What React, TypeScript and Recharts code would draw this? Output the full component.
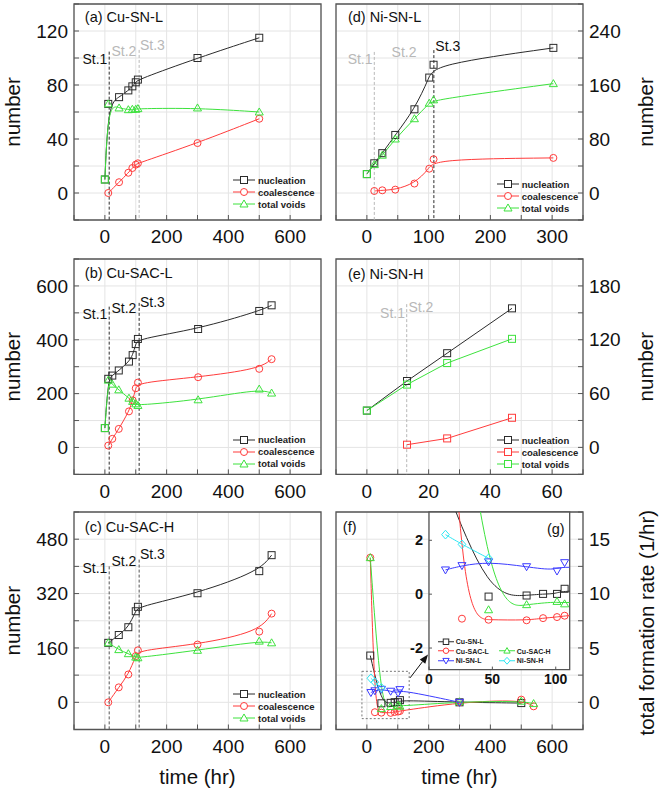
import React from 'react';
import {
  LineChart,
  Line,
  XAxis,
  YAxis,
  CartesianGrid,
  ReferenceLine,
  ReferenceArea,
  ReferenceDot,
  Legend,
} from 'recharts';

const FONT = 'Arial, "Liberation Sans", Helvetica, sans-serif';

const BLACK = '#2b2b2b';
const RED = '#ff3b3b';
const GREEN = '#3de23d';
const BLUE = '#3b3bff';
const CYAN = '#2ee6f2';
const ST_GREY = '#b8b8b8';
const FRAME = '#555555';
const GRID = '#e4e4e4';

// ---- (a) Cu-SN-L ----
const cuSnLTime = [0, 11, 46, 76, 89, 100, 107, 300, 500];
const cuSnLNucleation = [10, 66, 71, 76, 79, 82, 84, 100, 115];
const cuSnLCoalescence = [null, 0, 8, 15, 18.5, 21, 22, 37, 55];
const cuSnLVoids = [10, 66, 63, 61.7, 62, 62, 62.5, 63, 60];

// ---- (b) Cu-SAC-L ----
const cuSacLTime = [0, 11, 24, 45, 78, 90, 100, 107, 302, 500, 540];
const cuSacLNucleation = [72, 255, 267, 286, 319, 343, 384, 403, 440, 507, 528];
const cuSacLCoalescence = [null, 7, 32, 69, 134, 175, 220, 241, 261, 292, 328];
const cuSacLVoids = [72, 250, 235, 214, 183, 171, 162, 156, 177, 217, 202];

// ---- (c) Cu-SAC-H ----
const cuSacHTime = [11, 45, 76, 100, 107, 300, 500, 540];
const cuSacHNucleation = [175, 198, 221, 268, 281, 321, 386, 433];
const cuSacHCoalescence = [0, 44, 82, 136, 153, 170, 208, 261];
const cuSacHVoids = [175, 155, 143, 133, 131, 153, 180, 175];

// ---- (d) Ni-SN-L ----
const niSnLTime = [0, 12, 25, 46, 77, 101, 108, 302];
const niSnLNucleation = [28, 44, 59, 86, 124, 171, 190, 215];
const niSnLCoalescence = [null, 3, 4, 5, 14, 36, 50, 52];
const niSnLVoids = [28, 42, 56, 80, 110, 133, 138, 162];

// ---- (e) Ni-SN-H ----
const niSnHTime = [0, 13, 26, 47];
const niSnHNucleation = [41, 74, 105, 155];
const niSnHCoalescence = [null, 3, 10, 33];
const niSnHVoids = [41, 70, 94, 121];

// ---- (f)/(g) total formation rate ----
const rateTimeCuSnL = [11, 47, 77, 90, 101, 107, 300, 500];
const rateCuSnL = [4.3, -0.09, -0.05, 0.01, 0.01, 0.2, 0, -0.07];
const rateTimeCuSacL = [11, 26, 47, 77, 90, 101, 107, 300, 500, 540];
const rateCuSacL = [13.3, -0.91, -0.95, -0.97, -0.89, -0.85, -0.8, 0, 0.25, -0.37];
const rateTimeCuSacH = [11, 47, 77, 101, 107, 300, 500, 540];
const rateCuSacH = [13.3, -0.58, -0.39, -0.27, -0.36, 0.05, 0.1, -0.12];
const rateTimeNiSnL = [13, 26, 47, 77, 101, 107, 300];
const rateNiSnL = [0.9, 1.06, 1.2, 1.02, 0.86, 1.17, 0];
const rateTimeNiSnH = [13, 26, 47];
const rateNiSnH = [2.21, 1.85, 1.33];

// ---- ticks ----
const hrTicks = [-100, 0, 100, 200, 300, 400, 500, 600, 700];
const hrLabels = [0, 200, 400, 600];
const niLTicks = [-50, 0, 50, 100, 150, 200, 250, 300, 350];
const niLLabels = [0, 100, 200, 300];
const niHTicks = [-10, 0, 10, 20, 30, 40, 50, 60, 70];
const niHLabels = [0, 20, 40, 60];
const aTicks = [-20, 0, 20, 40, 60, 80, 100, 120, 140];
const aLabels = [0, 40, 80, 120];
const bTicks = [-100, 0, 100, 200, 300, 400, 500, 600, 700];
const bLabels = [0, 200, 400, 600];
const cTicks = [-80, 0, 80, 160, 240, 320, 400, 480, 560];
const cLabels = [0, 160, 320, 480];
const dTicks = [-40, 0, 40, 80, 120, 160, 200, 240, 280];
const dLabels = [0, 80, 160, 240];
const eTicks = [-30, 0, 30, 60, 90, 120, 150, 180, 210];
const eLabels = [0, 60, 120, 180];
const fTicks = [-2.5, 0, 2.5, 5, 7.5, 10, 12.5, 15, 17.5];
const fLabels = [0, 5, 10, 15];
const gXTicks = [0, 50, 100];
const gYTicks = [-2, 0, 2];

type Pt = { t: number; v: number };
type Shape = 'square' | 'circle' | 'triangle' | 'down' | 'diamond';
type Series = { name: string; data: Pt[]; color: string; shape: Shape; firstShape?: Shape };

const pairs = (ts: number[], vs: (number | null)[]): Pt[] =>
  ts.flatMap((t, i) => (vs[i] == null ? [] : [{ t, v: vs[i] as number }]));

const Marker = ({ shape, cx, cy, color, size = 7, fill = 'none' }: any) => {
  if (cx == null || cy == null) return null;
  const h = size / 2;
  const common = { fill, stroke: color, strokeWidth: 1 };
  switch (shape) {
    case 'square':
      return <rect x={cx - h} y={cy - h} width={size} height={size} {...common} />;
    case 'circle':
      return <circle cx={cx} cy={cy} r={h} {...common} />;
    case 'triangle':
      return <polygon points={`${cx},${cy - h * 1.15} ${cx - h * 1.15},${cy + h * 0.85} ${cx + h * 1.15},${cy + h * 0.85}`} {...common} />;
    case 'down':
      return <polygon points={`${cx},${cy + h * 1.15} ${cx - h * 1.15},${cy - h * 0.85} ${cx + h * 1.15},${cy - h * 0.85}`} {...common} />;
    default:
      return <polygon points={`${cx},${cy - h * 1.25} ${cx + h * 1.1},${cy} ${cx},${cy + h * 1.25} ${cx - h * 1.1},${cy}`} {...common} />;
  }
};

const dotOf = (s: Series, size = 7) => (p: any) => (
  <g key={`${s.name}-${p.index}`}>
    <Marker shape={p.index === 0 && s.firstShape ? s.firstShape : s.shape} cx={p.cx} cy={p.cy} color={s.color} size={size} />
  </g>
);

const fmt = (shown: number[]) => (v: number) => (shown.includes(v) ? String(v) : '');

// three standard series of the growth panels
const growth = (ts: number[], nuc: (number | null)[], coa: (number | null)[], tot: (number | null)[], allSquares = false, zeroSquare = false): Series[] => [
  { name: 'nucleation', data: pairs(ts, nuc), color: BLACK, shape: 'square' },
  { name: 'coalescence', data: pairs(ts, coa), color: RED, shape: allSquares ? 'square' : 'circle' },
  { name: 'total voids', data: pairs(ts, tot), color: GREEN, shape: allSquares ? 'square' : 'triangle', firstShape: zeroSquare ? 'square' : undefined },
];

const PanelLegend = ({ series }: { series: Series[] }) => (
  <div style={{ fontFamily: FONT, fontWeight: 'bold', fontSize: 9.5, color: '#222' }}>
    {series.map((s) => (
      <div key={s.name} style={{ display: 'flex', alignItems: 'center', height: 12, whiteSpace: 'nowrap' }}>
        <svg width={22} height={12} style={{ display: 'block' }}>
          <line x1={0} x2={22} y1={6} y2={6} stroke={s.color} />
          <Marker shape={s.shape} cx={11} cy={6} color={s.color} size={7} fill="#fff" />
        </svg>
        <span style={{ marginLeft: 3 }}>{s.name}</span>
      </div>
    ))}
  </div>
);

const Arrow = (p: any) => {
  const { x1, y1, x2, y2 } = p;
  const a = Math.atan2(y2 - y1, x2 - x1);
  const bx = x2 - 9 * Math.cos(a);
  const by = y2 - 9 * Math.sin(a);
  const px = -Math.sin(a) * 3.5;
  const py = Math.cos(a) * 3.5;
  return (
    <g>
      <line x1={x1} y1={y1} x2={bx} y2={by} stroke="#111" strokeWidth={1} />
      <polygon points={`${x2},${y2} ${bx + px},${by + py} ${bx - px},${by - py}`} fill="#111" />
    </g>
  );
};

type Note = { text: string; x: number; y: number; color: string };
type Stage = { x: number; top: number; color: string };

type PanelProps = {
  plot: { x: number; y: number; w: number; h: number };
  side: 'left' | 'right';
  xDomain: [number, number];
  xTicks: number[];
  xLabels: number[];
  yDomain: [number, number];
  yTicks: number[];
  yLabels: number[];
  series: Series[];
  curve: 'basis' | 'linear';
  title: Note;
  stages?: Stage[];
  notes?: Note[];
  legendAt?: { x: number; y: number };
  yTitle: string;
  yTitleDx: number;
  yTitleDy?: number;
  xTitle?: boolean;
  extra?: React.ReactNode[];
};

const AXIS_W = 74;
const AXIS_W_RIGHT = 78;
const X_AXIS_H = 60;
const PAD = 5;
const PAD_TOP = 25;

const Panel = (p: PanelProps) => {
  const { plot, side } = p;
  const axisW = side === 'left' ? AXIS_W : AXIS_W_RIGHT;
  const left = side === 'left' ? plot.x - axisW : plot.x - PAD;
  const top = plot.y - PAD_TOP;
  const width = axisW + plot.w + PAD;
  const height = PAD_TOP + plot.h + X_AXIS_H;
  const margin = side === 'left'
    ? { top: PAD_TOP, right: PAD, bottom: 0, left: 0 }
    : { top: PAD_TOP, right: 0, bottom: 0, left: PAD };
  return (
    <div style={{ position: 'absolute', left, top, width, height }}>
      <LineChart width={width} height={height} margin={margin}>
        <CartesianGrid stroke={GRID} />
        <XAxis
          type="number"
          dataKey="t"
          domain={p.xDomain}
          ticks={p.xTicks}
          interval={0}
          tickFormatter={fmt(p.xLabels)}
          axisLine={false}
          tickSize={-5}
          tickMargin={15}
          tickLine={{ stroke: FRAME }}
          tick={{ fill: '#111', fontSize: 19 }}
          height={X_AXIS_H}
          label={p.xTitle ? { value: 'time (hr)', position: 'center', dy: 17, fontSize: 20.5, fill: '#111' } : undefined}
        />
        <YAxis
          type="number"
          orientation={side}
          domain={p.yDomain}
          ticks={p.yTicks}
          interval={0}
          tickFormatter={fmt(p.yLabels)}
          axisLine={false}
          tickSize={-5}
          tickMargin={11}
          tickLine={{ stroke: FRAME }}
          tick={{ fill: '#111', fontSize: 19 }}
          width={axisW}
          label={{ value: p.yTitle, angle: -90, position: 'center', dx: p.yTitleDx, dy: p.yTitleDy || 0, fontSize: 20.5, fill: '#111' }}
        />
        {(p.stages || []).map((s, i) => (
          <ReferenceLine
            key={`st-${i}`}
            segment={[{ x: s.x, y: s.top }, { x: s.x, y: p.yDomain[0] }]}
            stroke={s.color}
            strokeDasharray="3 2"
            strokeWidth={1}
          />
        ))}
        {p.series.map((s) => (
          <Line
            key={s.name}
            data={s.data}
            dataKey="v"
            type={p.curve}
            stroke={s.color}
            strokeWidth={1}
            dot={dotOf(s)}
            activeDot={false}
            isAnimationActive={false}
            legendType="none"
          />
        ))}
        {p.extra}
        {(p.notes || []).map((n) => (
          <ReferenceDot
            key={n.text}
            x={n.x}
            y={n.y}
            r={0}
            fill="none"
            stroke="none"
            label={{ value: n.text, position: 'center', fill: n.color, fontSize: 14 }}
          />
        ))}
        <ReferenceDot
          x={p.title.x}
          y={p.title.y}
          r={0}
          fill="none"
          stroke="none"
          label={{ value: p.title.text, position: 'right', offset: 0, fill: p.title.color, fontSize: 14.5 }}
        />
        <ReferenceArea
          x1={p.xDomain[0]}
          x2={p.xDomain[1]}
          y1={p.yDomain[0]}
          y2={p.yDomain[1]}
          fill="none"
          stroke={FRAME}
          strokeWidth={1.3}
          ifOverflow="visible"
        />
        {p.legendAt && (
          <Legend
            layout="vertical"
            align="center"
            verticalAlign="middle"
            wrapperStyle={{ left: p.legendAt.x - left, top: p.legendAt.y - top, width: 'auto' }}
            content={() => <PanelLegend series={p.series} />}
          />
        )}
      </LineChart>
    </div>
  );
};

const rateSeries: Series[] = [
  { name: 'Cu-SN-L', data: pairs(rateTimeCuSnL, rateCuSnL), color: BLACK, shape: 'square' },
  { name: 'Cu-SAC-L', data: pairs(rateTimeCuSacL, rateCuSacL), color: RED, shape: 'circle' },
  { name: 'Cu-SAC-H', data: pairs(rateTimeCuSacH, rateCuSacH), color: GREEN, shape: 'triangle' },
  { name: 'Ni-SN-L', data: pairs(rateTimeNiSnL, rateNiSnL), color: BLUE, shape: 'down' },
  { name: 'Ni-SN-H', data: pairs(rateTimeNiSnH, rateNiSnH), color: CYAN, shape: 'diamond' },
];

// legend cells of the inset: [series index, row, column]
const insetCells = [
  [0, 0, 0],
  [1, 1, 0],
  [2, 1, 1],
  [3, 2, 0],
  [4, 2, 1],
];

const InsetLegend = () => (
  <div style={{ position: 'relative', width: 125, height: 29, fontFamily: FONT, fontWeight: 'bold', fontSize: 7, color: '#222' }}>
    {insetCells.map(([si, row, col]) => {
      const s = rateSeries[si];
      return (
        <div key={s.name} style={{ position: 'absolute', left: col * 61, top: row * 9.5, height: 9.5, display: 'flex', alignItems: 'center', whiteSpace: 'nowrap' }}>
          <svg width={16} height={9.5} style={{ display: 'block' }}>
            <line x1={0} x2={16} y1={4.75} y2={4.75} stroke={s.color} />
            <Marker shape={s.shape} cx={8} cy={4.75} color={s.color} size={5.5} fill="#fff" />
          </svg>
          <span style={{ marginLeft: 1.5 }}>{s.name}</span>
        </div>
      );
    })}
  </div>
);

const Inset = () => {
  const plot = { x: 429.3, y: 511.7, w: 140.7, h: 157.6 };
  const yw = 30;
  const left = plot.x - yw;
  const top = plot.y - PAD;
  const width = yw + plot.w + PAD;
  const height = PAD + plot.h + 25;
  const xDomain: [number, number] = [0, 111];
  const yDomain: [number, number] = [-2.8, 3.05];
  return (
    <div style={{ position: 'absolute', left, top, width, height }}>
      <LineChart width={width} height={height} margin={{ top: PAD, right: PAD, bottom: 0, left: 0 }}>
        <CartesianGrid horizontal={false} vertical={false} fill="#ffffff" />
        <XAxis
          type="number"
          dataKey="t"
          domain={xDomain}
          ticks={gXTicks}
          interval={0}
          allowDataOverflow
          axisLine={false}
          tickSize={-3}
          tickMargin={7}
          tickLine={{ stroke: FRAME }}
          tick={{ fill: '#111', fontSize: 14, fontWeight: 'bold' }}
          height={25}
        />
        <YAxis
          type="number"
          domain={yDomain}
          ticks={gYTicks}
          interval={0}
          allowDataOverflow
          axisLine={false}
          tickSize={-3}
          tickMargin={9}
          tickLine={{ stroke: FRAME }}
          tick={{ fill: '#111', fontSize: 14.5, fontWeight: 'bold' }}
          width={yw}
        />
        {rateSeries.map((s) => (
          <Line
            key={s.name}
            data={s.data}
            dataKey="v"
            type="basis"
            stroke={s.color}
            strokeWidth={1}
            dot={dotOf(s)}
            activeDot={false}
            isAnimationActive={false}
            legendType="none"
          />
        ))}
        <ReferenceDot
          x={100}
          y={2.44}
          r={0}
          fill="none"
          stroke="none"
          label={{ value: '(g)', position: 'center', fill: '#111', fontSize: 14.5 }}
        />
        <ReferenceArea x1={xDomain[0]} x2={xDomain[1]} y1={yDomain[0]} y2={yDomain[1]} fill="none" stroke={FRAME} strokeWidth={1.3} ifOverflow="visible" />
        <Legend
          layout="vertical"
          align="center"
          verticalAlign="middle"
          wrapperStyle={{ left: 438.3 - left, top: 637 - top, width: 'auto' }}
          content={() => <InsetLegend />}
        />
      </LineChart>
    </div>
  );
};

export default function App() {
  const colL = { x: 74, w: 247 };
  const colR = { x: 336, w: 247 };
  return (
    <div style={{ position: 'absolute', left: 0, top: 0, width: 660, height: 790, background: '#fff', fontFamily: FONT, overflow: 'hidden' }}>
      <Panel
        plot={{ ...colL, y: 4.3, h: 216 }}
        side="left"
        xDomain={[-100, 700]}
        xTicks={hrTicks}
        xLabels={hrLabels}
        yDomain={[-20, 140]}
        yTicks={aTicks}
        yLabels={aLabels}
        series={growth(cuSnLTime, cuSnLNucleation, cuSnLCoalescence, cuSnLVoids, false, true)}
        curve="basis"
        title={{ text: '(a) Cu-SN-L', x: -65, y: 130.6, color: '#111' }}
        stages={[
          { x: 14, top: 104.7, color: BLACK },
          { x: 111, top: 106, color: ST_GREY },
        ]}
        notes={[
          { text: 'St.1', x: -32.4, y: 99.5, color: '#111' },
          { text: 'St.2', x: 61.6, y: 104.9, color: ST_GREY },
          { text: 'St.3', x: 154, y: 109.3, color: ST_GREY },
        ]}
        legendAt={{ x: 233, y: 174 }}
        yTitle="number"
        yTitleDx={-24.5}
      />
      <Panel
        plot={{ ...colL, y: 259.3, h: 215.4 }}
        side="left"
        xDomain={[-100, 700]}
        xTicks={hrTicks}
        xLabels={hrLabels}
        yDomain={[-100, 700]}
        yTicks={bTicks}
        yLabels={bLabels}
        series={growth(cuSacLTime, cuSacLNucleation, cuSacLCoalescence, cuSacLVoids, false, true)}
        curve="basis"
        title={{ text: '(b) Cu-SAC-L', x: -65, y: 647, color: '#111' }}
        stages={[
          { x: 14, top: 523, color: BLACK },
          { x: 111, top: 537, color: BLACK },
        ]}
        notes={[
          { text: 'St.1', x: -32.4, y: 497, color: '#111' },
          { text: 'St.2', x: 61.6, y: 518, color: '#111' },
          { text: 'St.3', x: 154, y: 541, color: '#111' },
        ]}
        legendAt={{ x: 233, y: 434 }}
        yTitle="number"
        yTitleDx={-24.5}
      />
      <Panel
        plot={{ ...colL, y: 512, h: 217.5 }}
        side="left"
        xDomain={[-100, 700]}
        xTicks={hrTicks}
        xLabels={hrLabels}
        yDomain={[-80, 560]}
        yTicks={cTicks}
        yLabels={cLabels}
        series={growth(cuSacHTime, cuSacHNucleation, cuSacHCoalescence, cuSacHVoids)}
        curve="basis"
        title={{ text: '(c) Cu-SAC-H', x: -65, y: 517, color: '#111' }}
        stages={[
          { x: 14, top: 400, color: '#555' },
          { x: 111, top: 420, color: '#555' },
        ]}
        notes={[
          { text: 'St.1', x: -32.4, y: 394, color: '#111' },
          { text: 'St.2', x: 61.6, y: 416, color: '#111' },
          { text: 'St.3', x: 154, y: 436, color: '#111' },
        ]}
        legendAt={{ x: 233, y: 688.3 }}
        yTitle="number"
        yTitleDx={-24.5}
        xTitle
      />
      <Panel
        plot={{ ...colR, y: 4.3, h: 216 }}
        side="right"
        xDomain={[-50, 350]}
        xTicks={niLTicks}
        xLabels={niLLabels}
        yDomain={[-40, 280]}
        yTicks={dTicks}
        yLabels={dLabels}
        series={growth(niSnLTime, niSnLNucleation, niSnLCoalescence, niSnLVoids, false, true)}
        curve="basis"
        title={{ text: '(d) Ni-SN-L', x: -30.7, y: 260.7, color: '#111' }}
        stages={[
          { x: 12, top: 209, color: ST_GREY },
          { x: 108.5, top: 211.7, color: BLACK },
        ]}
        notes={[
          { text: 'St.1', x: -11, y: 198.4, color: ST_GREY },
          { text: 'St.2', x: 60.2, y: 209.2, color: ST_GREY },
          { text: 'St.3', x: 131, y: 218, color: '#111' },
        ]}
        legendAt={{ x: 496.7, y: 178.3 }}
        yTitle="number"
        yTitleDx={24}
      />
      <Panel
        plot={{ ...colR, y: 258.5, h: 215.3 }}
        side="right"
        xDomain={[-10, 70]}
        xTicks={niHTicks}
        xLabels={niHLabels}
        yDomain={[-30, 210]}
        yTicks={eTicks}
        yLabels={eLabels}
        series={growth(niSnHTime, niSnHNucleation, niSnHCoalescence, niSnHVoids, true)}
        curve="linear"
        title={{ text: '(e) Ni-SN-H', x: -6.15, y: 194, color: '#111' }}
        stages={[{ x: 12.9, top: 159.7, color: ST_GREY }]}
        notes={[
          { text: 'St.1', x: 8.3, y: 149.4, color: ST_GREY },
          { text: 'St.2', x: 17.5, y: 157, color: ST_GREY },
        ]}
        legendAt={{ x: 496.7, y: 434 }}
        yTitle="number"
        yTitleDx={24}
      />
      <Panel
        plot={{ ...colR, y: 512, h: 217.5 }}
        side="right"
        xDomain={[-100, 700]}
        xTicks={hrTicks}
        xLabels={hrLabels}
        yDomain={[-2.5, 17.5]}
        yTicks={fTicks}
        yLabels={fLabels}
        series={rateSeries}
        curve="basis"
        title={{ text: '(f)', x: -77.8, y: 16.16, color: '#111' }}
        yTitle="total formation rate (1/hr)"
        yTitleDx={25}
        yTitleDy={2}
        xTitle
        extra={[
          <ReferenceArea
            key="zoom-box"
            x1={-16}
            x2={137}
            y1={-1.5}
            y2={2.85}
            fill="none"
            stroke="#777"
            strokeDasharray="2 2"
            ifOverflow="visible"
          />,
          <ReferenceLine
            key="zoom-arrow"
            segment={[{ x: 140, y: 2.25 }, { x: 198, y: 4.4 }]}
            stroke="#111"
            ifOverflow="visible"
            shape={Arrow}
          />,
        ]}
      />
      <Inset />
    </div>
  );
}
